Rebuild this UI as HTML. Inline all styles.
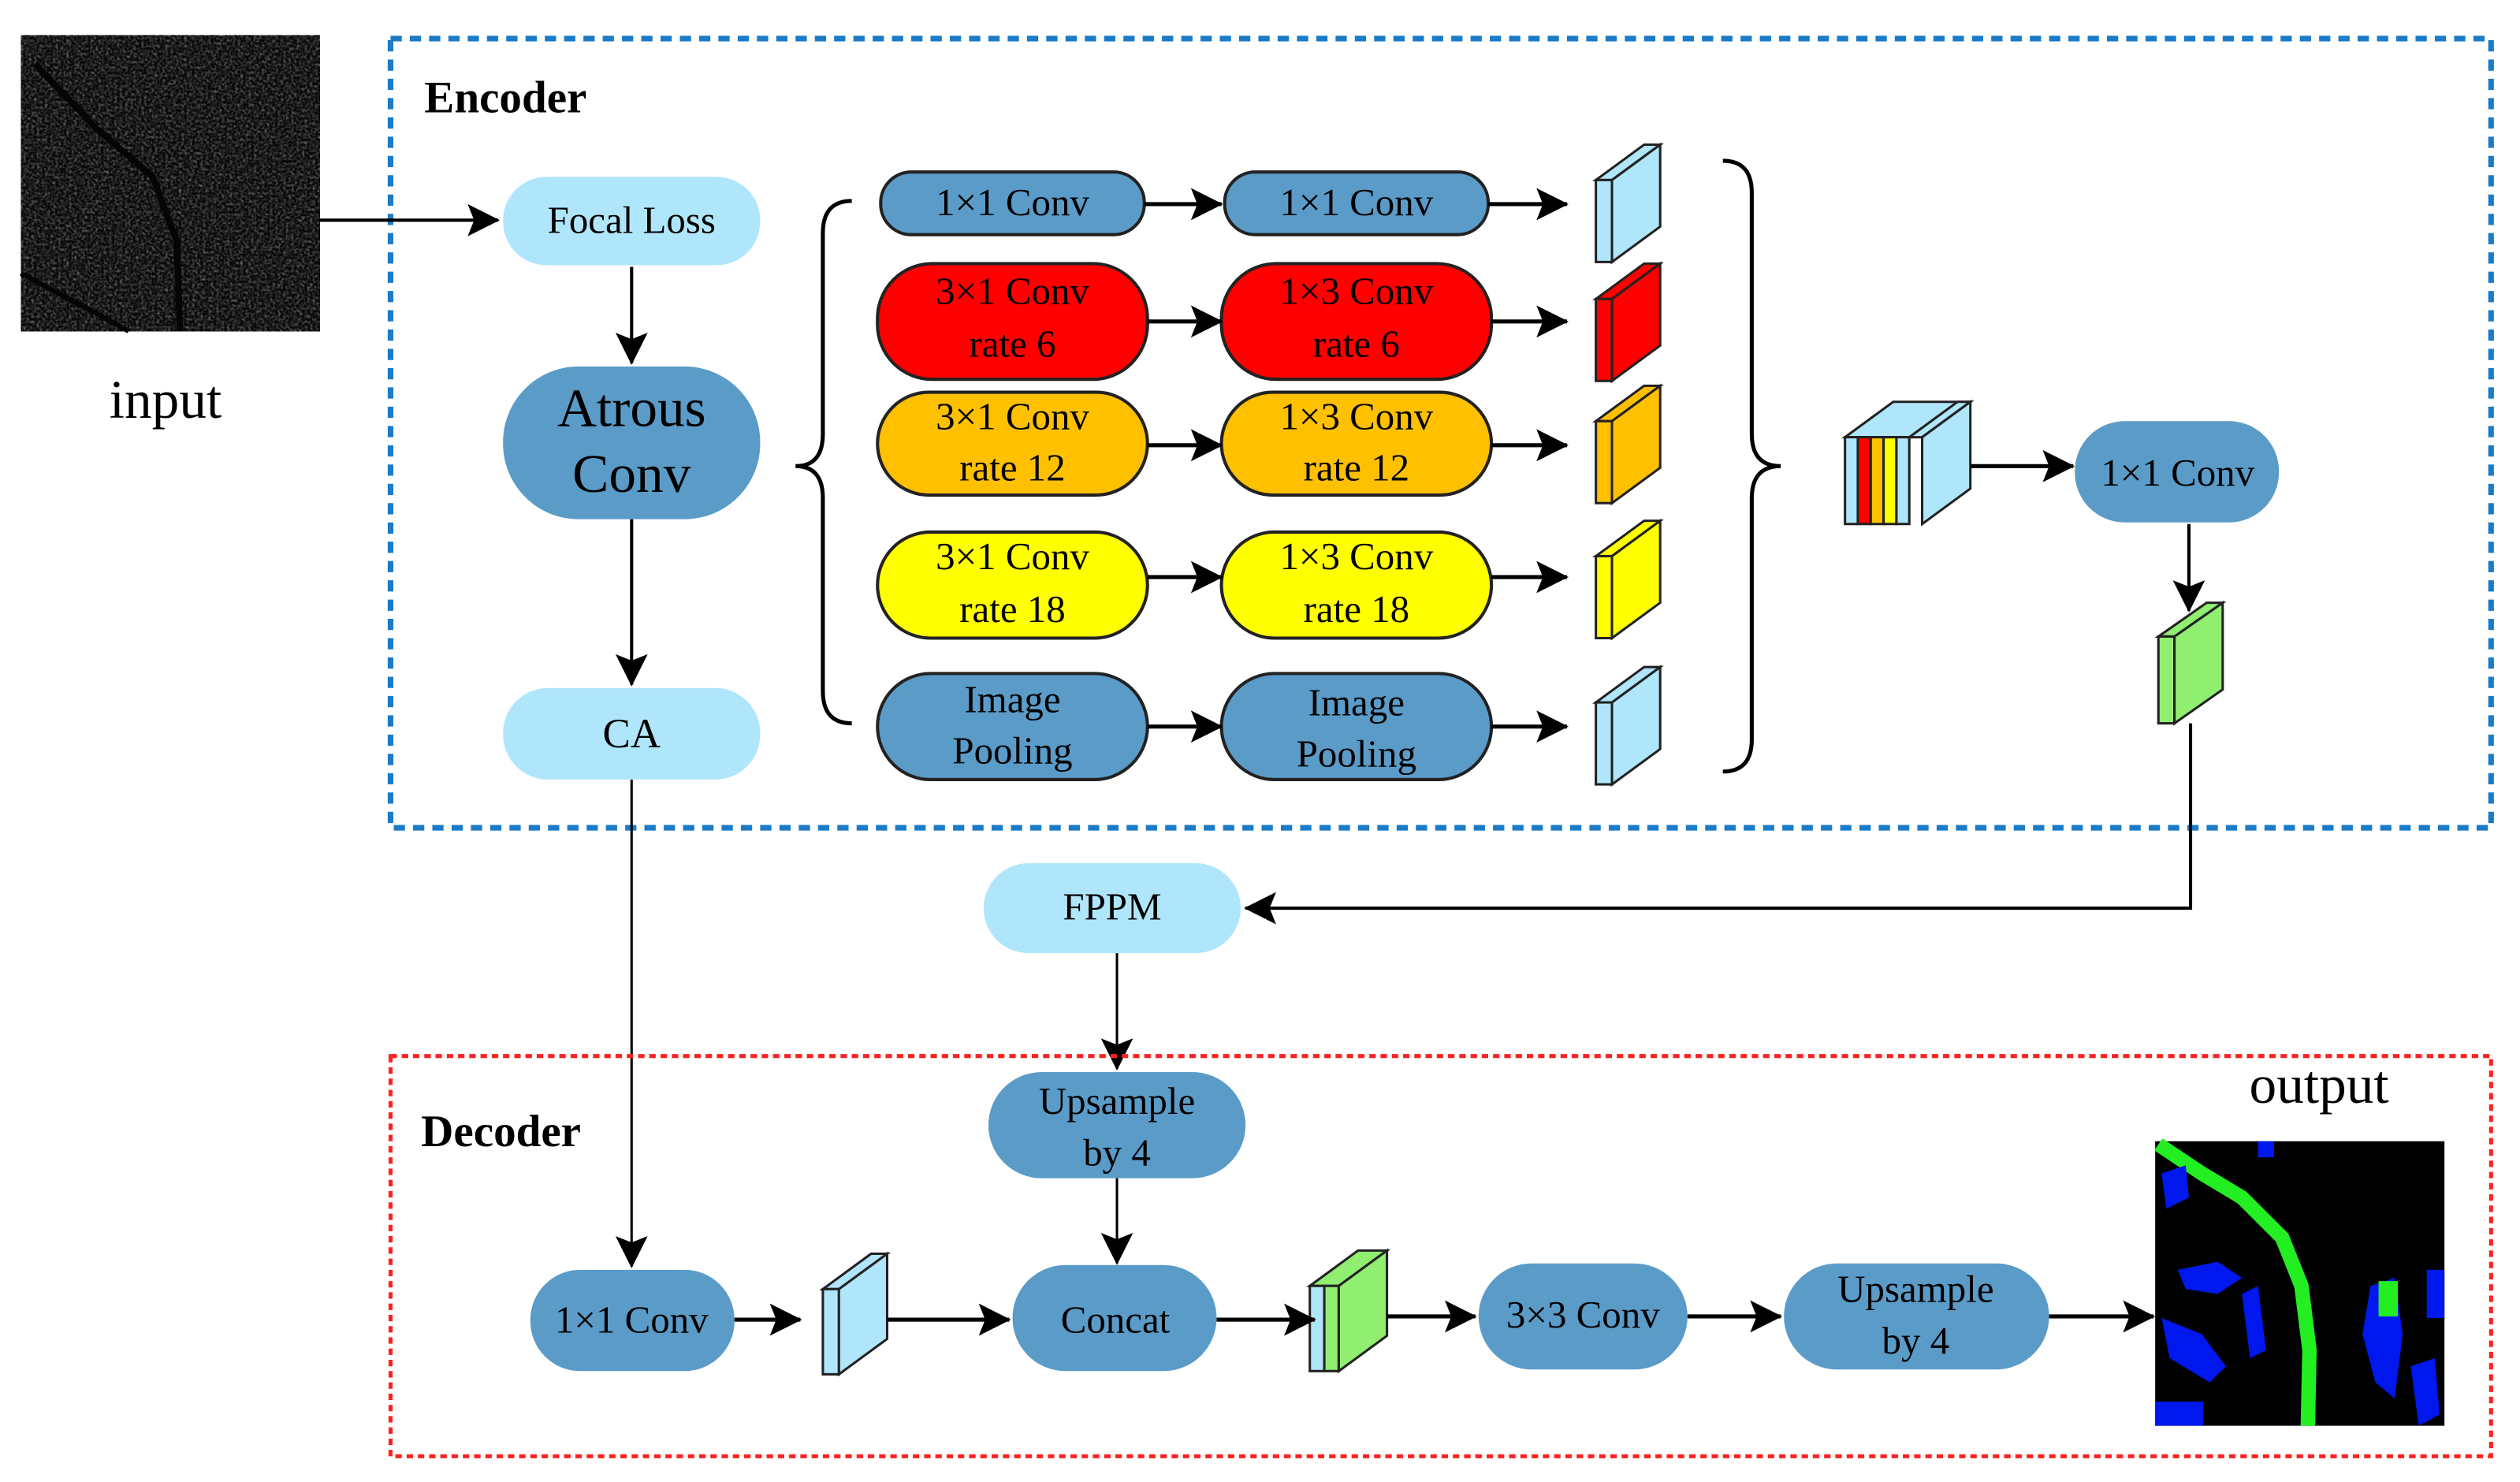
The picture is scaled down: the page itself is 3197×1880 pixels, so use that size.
<!DOCTYPE html>
<html><head><meta charset="utf-8"><style>html,body{margin:0;padding:0;background:#fff}svg{display:block}</style></head>
<body>
<svg width="3197" height="1880" viewBox="0 0 1568 922" preserveAspectRatio="none" xmlns="http://www.w3.org/2000/svg" font-family="Liberation Serif, serif">
<defs>
<marker id="b" markerWidth="20" markerHeight="20" refX="19" refY="10" orient="auto" markerUnits="userSpaceOnUse" viewBox="0 0 20 20"><path d="M0,0 L20,10 L0,20 L4,10 z" fill="#000"/></marker>
<filter id="n" x="0" y="0" width="100%" height="100%" color-interpolation-filters="sRGB"><feTurbulence type="fractalNoise" baseFrequency="0.6" numOctaves="2" seed="3"/><feColorMatrix type="matrix" values="0.6 0.6 0.6 0 -0.78  0.6 0.6 0.6 0 -0.78  0.6 0.6 0.6 0 -0.78  0 0 0 0 1"/></filter>
</defs>
<rect width="1568" height="922" fill="#fff"/>
<!-- input image -->
<rect x="13" y="22" width="186" height="184" fill="#111"/>
<rect x="13" y="22" width="186" height="184" filter="url(#n)"/>
<rect x="13" y="22" width="186" height="184" fill="#1a1a1a" opacity="0.35"/>
<path d="M22,40 L60,80 L95,110 L110,150 L112,206" stroke="#050505" stroke-width="4" fill="none"/>
<path d="M13,170 L60,195 L80,206" stroke="#050505" stroke-width="3" fill="none"/>
<text x="103" y="260" font-size="34" text-anchor="middle">input</text>

<!-- encoder box -->
<rect x="243" y="24" width="1307" height="491" fill="none" stroke="#1a7bc8" stroke-width="3.5" stroke-dasharray="7,5"/>
<text x="264" y="70" font-size="28" font-weight="bold">Encoder</text>

<g stroke="#000" stroke-width="2" fill="none">
<line x1="199" y1="137" x2="310" y2="137" marker-end="url(#b)"/>
<line x1="393" y1="166" x2="393" y2="226" marker-end="url(#b)"/>
<line x1="393" y1="323" x2="393" y2="426" marker-end="url(#b)"/>
<line x1="393" y1="485" x2="393" y2="788" marker-end="url(#b)" stroke-width="1.5"/>
</g>
<rect x="313" y="110" width="160" height="55" rx="27" fill="#b0e6fb"/>
<text x="393" y="145" font-size="24" text-anchor="middle">Focal Loss</text>
<rect x="313" y="228" width="160" height="95" rx="47" fill="#5b9bc8"/>
<text x="393" y="265" font-size="34" text-anchor="middle">Atrous</text>
<text x="393" y="306" font-size="34" text-anchor="middle">Conv</text>
<rect x="313" y="428" width="160" height="57" rx="28" fill="#b0e6fb"/>
<text x="393" y="465" font-size="26" text-anchor="middle">CA</text>

<!-- braces -->
<path d="M530,125 Q512,125 512,145 L512,270 Q512,290 495,290 Q512,290 512,310 L512,430 Q512,450 530,450" stroke="#000" stroke-width="2.5" fill="none"/>
<path d="M1072,100 Q1090,100 1090,120 L1090,270 Q1090,290 1108,290 Q1090,290 1090,310 L1090,460 Q1090,480 1072,480" stroke="#000" stroke-width="2.5" fill="none"/>

<!-- rows -->
<g stroke="#222" stroke-width="2">
<rect x="548" y="107" width="164" height="39" rx="19" fill="#5b9bc8"/>
<rect x="762" y="107" width="164" height="39" rx="19" fill="#5b9bc8"/>
<rect x="546" y="164" width="168" height="72" rx="34" fill="#ff0000"/>
<rect x="760" y="164" width="168" height="72" rx="34" fill="#ff0000"/>
<rect x="546" y="244" width="168" height="64" rx="32" fill="#ffc000"/>
<rect x="760" y="244" width="168" height="64" rx="32" fill="#ffc000"/>
<rect x="546" y="331" width="168" height="66" rx="33" fill="#ffff00"/>
<rect x="760" y="331" width="168" height="66" rx="33" fill="#ffff00"/>
<rect x="546" y="419" width="168" height="66" rx="33" fill="#5b9bc8"/>
<rect x="760" y="419" width="168" height="66" rx="33" fill="#5b9bc8"/>
</g>
<g font-size="24" text-anchor="middle">
<text x="630" y="134">1×1 Conv</text><text x="844" y="134">1×1 Conv</text>
<text x="630" y="189">3×1 Conv</text><text x="630" y="222">rate 6</text>
<text x="844" y="189">1×3 Conv</text><text x="844" y="222">rate 6</text>
<text x="630" y="267">3×1 Conv</text><text x="630" y="299">rate 12</text>
<text x="844" y="267">1×3 Conv</text><text x="844" y="299">rate 12</text>
<text x="630" y="354">3×1 Conv</text><text x="630" y="387">rate 18</text>
<text x="844" y="354">1×3 Conv</text><text x="844" y="387">rate 18</text>
<text x="630" y="443">Image</text><text x="630" y="475">Pooling</text>
<text x="844" y="445">Image</text><text x="844" y="477">Pooling</text>
</g>
<g stroke="#000" stroke-width="2.5" fill="none">
<line x1="712" y1="127" x2="760" y2="127" marker-end="url(#b)"/>
<line x1="926" y1="127" x2="975" y2="127" marker-end="url(#b)"/>
<line x1="714" y1="200" x2="760" y2="200" marker-end="url(#b)"/>
<line x1="928" y1="200" x2="975" y2="200" marker-end="url(#b)"/>
<line x1="714" y1="277" x2="760" y2="277" marker-end="url(#b)"/>
<line x1="928" y1="277" x2="975" y2="277" marker-end="url(#b)"/>
<line x1="714" y1="359" x2="760" y2="359" marker-end="url(#b)"/>
<line x1="928" y1="359" x2="975" y2="359" marker-end="url(#b)"/>
<line x1="714" y1="452" x2="760" y2="452" marker-end="url(#b)"/>
<line x1="928" y1="452" x2="975" y2="452" marker-end="url(#b)"/>
</g>
<!-- cubes -->
<g stroke="#222" stroke-width="1.5">
<g fill="#b0e6fb"><polygon points="993,112 1003,112 1033,90 1023,90"/><rect x="993" y="112" width="10" height="51"/><polygon points="1003,112 1033,90 1033,141 1003,163"/></g>
<g fill="#ff0000"><polygon points="993,186 1003,186 1033,164 1023,164"/><rect x="993" y="186" width="10" height="51"/><polygon points="1003,186 1033,164 1033,215 1003,237"/></g>
<g fill="#ffc000"><polygon points="993,262 1003,262 1033,240 1023,240"/><rect x="993" y="262" width="10" height="51"/><polygon points="1003,262 1033,240 1033,291 1003,313"/></g>
<g fill="#ffff00"><polygon points="993,346 1003,346 1033,324 1023,324"/><rect x="993" y="346" width="10" height="51"/><polygon points="1003,346 1033,324 1033,375 1003,397"/></g>
<g fill="#b0e6fb"><polygon points="993,437 1003,437 1033,415 1023,415"/><rect x="993" y="437" width="10" height="51"/><polygon points="1003,437 1033,415 1033,466 1003,488"/></g>
<!-- stack -->
<polygon points="1148,272 1196,272 1226,250 1178,250" fill="#b0e6fb"/>
<rect x="1148" y="272" width="8" height="54" fill="#b0e6fb"/>
<rect x="1156" y="272" width="8" height="54" fill="#ff0000"/>
<rect x="1164" y="272" width="8" height="54" fill="#ffc000"/>
<rect x="1172" y="272" width="8" height="54" fill="#ffff00"/>
<rect x="1180" y="272" width="8" height="54" fill="#b0e6fb"/>
<polygon points="1188,272 1196,272 1226,250 1218,250" fill="#b0e6fb"/>
<polygon points="1196,272 1226,250 1226,304 1196,326" fill="#b0e6fb"/>
<!-- green -->
<g fill="#90ee70"><polygon points="1343,396 1353,396 1383,375 1373,375"/><rect x="1343" y="396" width="10" height="54"/><polygon points="1353,396 1383,375 1383,429 1353,450"/></g>
</g>
<line x1="1226" y1="290" x2="1290" y2="290" stroke="#000" stroke-width="2.5" marker-end="url(#b)"/>
<rect x="1291" y="262" width="127" height="63" rx="31" fill="#5b9bc8"/>
<text x="1355" y="302" font-size="24" text-anchor="middle">1×1 Conv</text>
<line x1="1362" y1="326" x2="1362" y2="380" stroke="#000" stroke-width="2" marker-end="url(#b)"/>
<polyline points="1363,450 1363,565 775,565" fill="none" stroke="#000" stroke-width="2" marker-end="url(#b)"/>

<rect x="612" y="537" width="160" height="56" rx="28" fill="#b0e6fb"/>
<text x="692" y="572" font-size="24" text-anchor="middle">FPPM</text>
<line x1="695" y1="593" x2="695" y2="665" stroke="#000" stroke-width="1.5" marker-end="url(#b)"/>

<!-- decoder box -->
<rect x="243" y="657" width="1307" height="249" fill="none" stroke="#ff2020" stroke-width="2.5" stroke-dasharray="4,3"/>
<text x="262" y="713" font-size="28" font-weight="bold">Decoder</text>
<text x="1443" y="686" font-size="34" text-anchor="middle">output</text>

<rect x="615" y="667" width="160" height="66" rx="33" fill="#5b9bc8"/>
<text x="695" y="693" font-size="24" text-anchor="middle">Upsample</text>
<text x="695" y="725" font-size="24" text-anchor="middle">by 4</text>
<line x1="695" y1="733" x2="695" y2="786" stroke="#000" stroke-width="1.5" marker-end="url(#b)"/>

<rect x="330" y="790" width="127" height="63" rx="31" fill="#5b9bc8"/>
<text x="393" y="829" font-size="24" text-anchor="middle">1×1 Conv</text>
<rect x="630" y="787" width="127" height="66" rx="33" fill="#5b9bc8"/>
<text x="694" y="829" font-size="24" text-anchor="middle">Concat</text>
<rect x="920" y="786" width="130" height="66" rx="33" fill="#5b9bc8"/>
<text x="985" y="826" font-size="24" text-anchor="middle">3×3 Conv</text>
<rect x="1110" y="786" width="165" height="66" rx="33" fill="#5b9bc8"/>
<text x="1192" y="810" font-size="24" text-anchor="middle">Upsample</text>
<text x="1192" y="842" font-size="24" text-anchor="middle">by 4</text>

<g stroke="#222" stroke-width="1.5">
<g fill="#b0e6fb"><polygon points="512,802 522,802 552,780 542,780"/><rect x="512" y="802" width="10" height="53"/><polygon points="522,802 552,780 552,833 522,855"/></g>
<g><polygon points="815,800 833,800 863,778 845,778" fill="#90ee70"/><rect x="815" y="800" width="9" height="53" fill="#b0e6fb"/><rect x="824" y="800" width="9" height="53" fill="#90ee70"/><polygon points="833,800 863,778 863,831 833,853" fill="#90ee70"/></g>
</g>
<g stroke="#000" stroke-width="2.5">
<line x1="457" y1="821" x2="498" y2="821" marker-end="url(#b)"/>
<line x1="552" y1="821" x2="628" y2="821" marker-end="url(#b)"/>
<line x1="757" y1="821" x2="818" y2="821" marker-end="url(#b)"/>
<line x1="863" y1="819" x2="918" y2="819" marker-end="url(#b)"/>
<line x1="1050" y1="819" x2="1108" y2="819" marker-end="url(#b)"/>
<line x1="1275" y1="819" x2="1340" y2="819" marker-end="url(#b)"/>
</g>

<!-- output image -->
<rect x="1341" y="710" width="180" height="177" fill="#000"/>
<path d="M1343,712 L1370,730 L1395,745 L1420,770 L1432,800 L1437,840 L1436,887" stroke="#22ee22" stroke-width="9" fill="none"/>
<g fill="#0018ee">
<path d="M1345,730 L1360,725 L1362,745 L1348,752 z"/>
<rect x="1405" y="710" width="10" height="10"/>
<path d="M1355,790 L1380,785 L1395,795 L1380,805 L1360,802 z"/>
<path d="M1345,820 L1370,830 L1385,850 L1375,860 L1350,845 z"/>
<path d="M1395,805 L1405,800 L1410,840 L1400,845 z"/>
<path d="M1475,800 L1490,795 L1495,830 L1490,870 L1478,860 L1470,830 z"/>
<path d="M1500,850 L1515,845 L1518,880 L1505,887 z"/>
<rect x="1341" y="872" width="30" height="15"/>
<rect x="1510" y="790" width="11" height="30"/>
</g>
<rect x="1480" y="797" width="12" height="22" fill="#22ee22"/>
</svg>
</body></html>
